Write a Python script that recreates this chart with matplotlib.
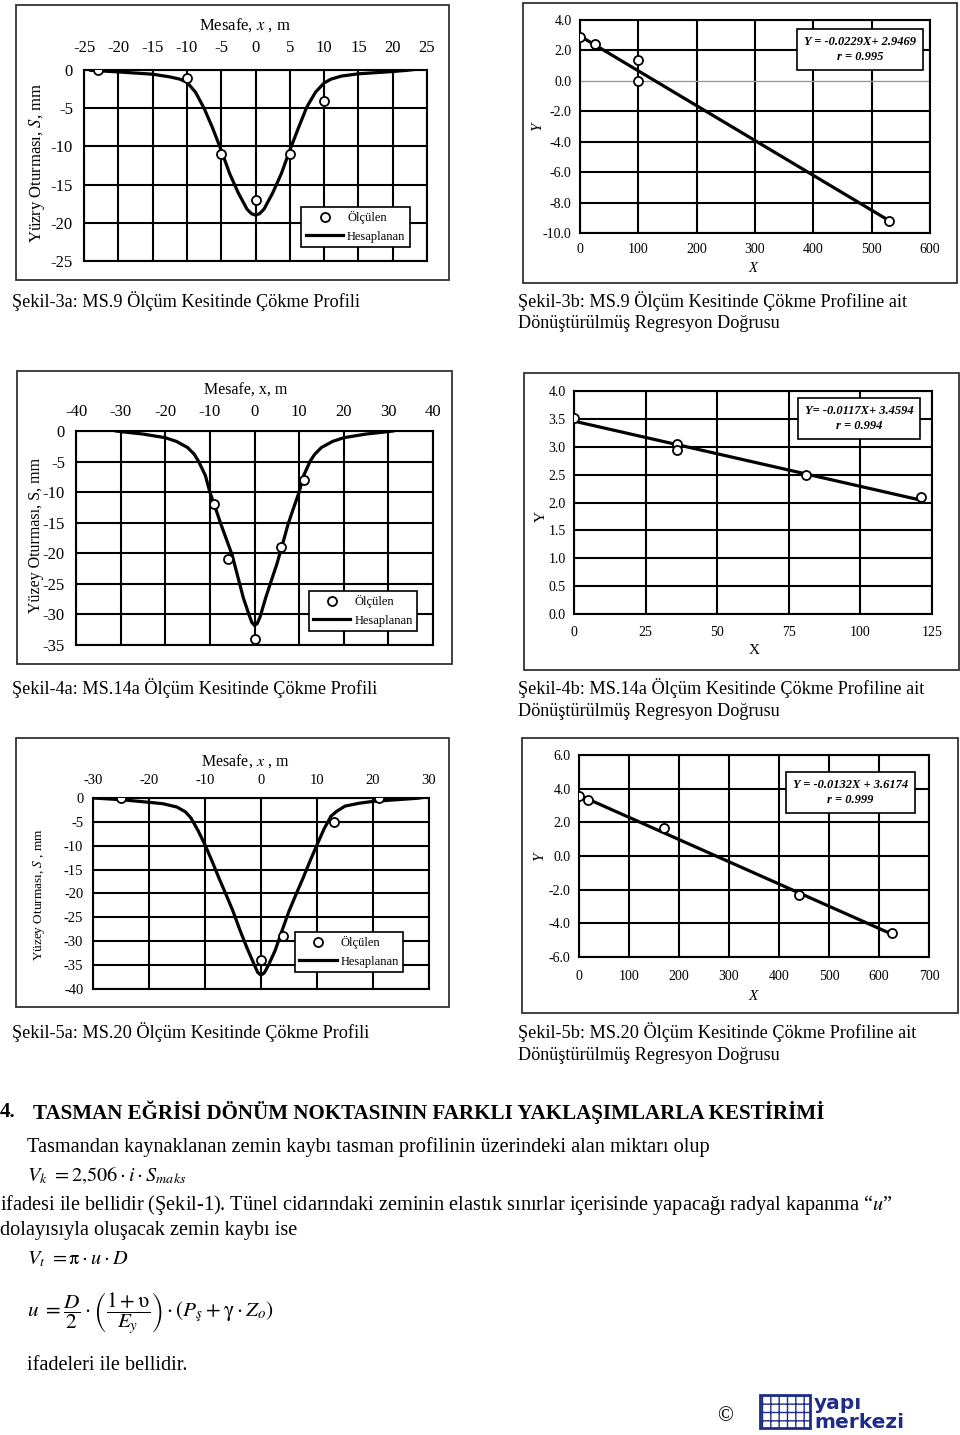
import matplotlib
matplotlib.use('Agg')
import matplotlib.pyplot as plt
import numpy as np
from matplotlib.patches import Rectangle
from matplotlib.lines import Line2D
from matplotlib.ticker import FormatStrFormatter

plt.rcParams['font.family'] = ['Liberation Serif', 'DejaVu Serif']
plt.rcParams['mathtext.fontset'] = 'stix'
plt.rcParams['axes.unicode_minus'] = False

W, H = 960, 1435

# ---------------- data ----------------
# Şekil-3a (MS.9 profile)
p3a_meas_x = [-23, -10, -5, 0, 5, 10]
p3a_meas_s = [0, -1, -11, -17, -11, -4]
p3a_calc_x = [-24, -22, -20, -17.5, -15, -12.5, -11, -10, -8.75, -7.5, -6.25, -5, -3.75, -2.5, -1.25, -0.6, 0,
              0.6, 1.25, 2.5, 3.75, 5, 6.25, 7.5, 8.75, 10, 11, 12.5, 15, 17.5, 20, 22, 23]
p3a_calc_s = [-0.05, -0.15, -0.25, -0.4, -0.55, -0.9, -1.2, -1.6, -2.9, -5.0, -7.6, -10.5, -13.6, -16.1, -18.2, -18.8, -19.0,
              -18.8, -18.2, -16.1, -13.6, -10.5, -7.6, -4.8, -2.9, -1.7, -1.2, -0.8, -0.5, -0.35, -0.2, -0.05, 0.05]
p3a_xticks = [-25, -20, -15, -10, -5, 0, 5, 10, 15, 20, 25]
p3a_yticks = [0, -5, -10, -15, -20, -25]

# Şekil-3b (MS.9 regression)
r3b_x = [0, 25, 100, 100, 530]
r3b_y = [2.85, 2.4, 1.4, 0.0, -9.2]
r3b_slope, r3b_icpt, r3b_r = -0.0229, 2.9469, 0.995
r3b_xticks = [0, 100, 200, 300, 400, 500, 600]
r3b_yticks = [4, 2, 0, -2, -4, -6, -8, -10]

# Şekil-4a (MS.14a profile)
p4a_meas_x = [-9, -6, 0, 6, 11]
p4a_meas_s = [-12, -21, -34, -19, -8]
p4a_calc_x = [-31, -30, -25, -20, -17.5, -15, -13.5, -12.5, -11, -10, -8.75, -7.5, -6.25, -5, -3.75, -2.5, -1.25, -0.6, 0,
              0.6, 1.25, 2.5, 3.75, 5, 6.25, 7.5, 8.75, 10, 11, 12.5, 13.5, 15, 17.5, 20, 25, 30, 31]
p4a_calc_s = [0, -0.1, -0.5, -1.1, -1.7, -2.7, -3.8, -5.0, -7.3, -10.0, -12.6, -15.3, -17.8, -20.3, -23.8, -27.3, -30.0, -31.3, -31.8,
              -31.5, -30.4, -27.3, -24.5, -21.8, -18.6, -15.3, -12.6, -10.0, -7.3, -4.9, -3.8, -2.7, -1.7, -1.1, -0.5, -0.1, 0]
p4a_xticks = [-40, -30, -20, -10, 0, 10, 20, 30, 40]
p4a_yticks = [0, -5, -10, -15, -20, -25, -30, -35]

# Şekil-4b (MS.14a regression)
r4b_x = [0, 36, 36, 81, 121]
r4b_y = [3.52, 3.05, 2.95, 2.5, 2.1]
r4b_slope, r4b_icpt, r4b_r = -0.0117, 3.4594, 0.994
r4b_xticks = [0, 25, 50, 75, 100, 125]
r4b_yticks = [0.0, 0.5, 1.0, 1.5, 2.0, 2.5, 3.0, 3.5, 4.0]

# Şekil-5a (MS.20 profile)
p5a_meas_x = [-25, 0, 4, 13, 21]
p5a_meas_s = [0, -34, -29, -5, 0]
p5a_calc_x = [-30, -25, -20, -17.5, -15, -13.5, -12.5, -11.25, -10, -8.75, -7.5, -6.25, -5, -3.75, -2.5, -1.25, -0.6, 0,
              0.6, 1.25, 2.5, 3.75, 5, 6.25, 7.5, 8.75, 10, 11.25, 12.5, 13.5, 15, 17.5, 20, 25, 28, 30]
p5a_calc_s = [0, -0.35, -0.9, -1.2, -1.9, -2.9, -4.2, -6.8, -9.8, -13.2, -16.8, -20.2, -23.7, -27.7, -31.4, -34.8, -36.5, -37.1,
              -36.6, -35.2, -32.0, -27.8, -23.7, -20.2, -16.8, -13.2, -9.8, -6.5, -3.8, -2.8, -1.7, -1.1, -0.7, -0.3, -0.05, 0.3]
p5a_xticks = [-30, -20, -10, 0, 10, 20, 30]
p5a_yticks = [0, -5, -10, -15, -20, -25, -30, -35, -40]

# Şekil-5b (MS.20 regression)
r5b_x = [0, 18, 170, 440, 625]
r5b_y = [3.55, 3.35, 1.65, -2.3, -4.6]
r5b_slope, r5b_icpt, r5b_r = -0.0132, 3.6174, 0.999
r5b_xticks = [0, 100, 200, 300, 400, 500, 600, 700]
r5b_yticks = [6, 4, 2, 0, -2, -4, -6]

# ---------------- helpers ----------------
fig = plt.figure(figsize=(W / 100, H / 100), dpi=100)
fig.patch.set_facecolor('white')


def fx(px):
    return px / W


def fy(py):
    return 1 - py / H


def rect_px(l, t, r, b):
    return [fx(l), fy(b), (r - l) / W, (b - t) / H]


def frame(l, t, r, b):
    fig.add_artist(Rectangle((fx(l), fy(b)), (r - l) / W, (b - t) / H, transform=fig.transFigure,
                             fill=False, ec='#333333', lw=1.3, zorder=0))


def style_common(ax, tick_fs, xpad, ypad):
    ax.set_axisbelow(True)
    ax.grid(True, color='black', lw=1.5)
    ax.tick_params(axis='both', length=0, labelsize=tick_fs)
    ax.tick_params(axis='x', pad=xpad)
    ax.tick_params(axis='y', pad=ypad)
    for s in ax.spines.values():
        s.set_linewidth(1.5)
        s.set_color('black')


def profile(box, xlim, ylim, xticks, yticks, mx, ms_, cx, cs, anchor, tick_fs, xpad, ypad):
    ax = fig.add_axes(rect_px(*box))
    ax.plot(cx, cs, color='black', lw=2.3, zorder=3, solid_joinstyle='round')
    ax.plot(mx, ms_, 'o', ms=6.5, mfc='white', mec='black', mew=1.3, zorder=4)
    ax.set_xlim(*xlim)
    ax.set_ylim(*ylim)
    ax.set_xticks(xticks)
    ax.set_yticks(yticks)
    ax.xaxis.tick_top()
    style_common(ax, tick_fs, xpad, ypad)
    h1 = Line2D([], [], ls='none', marker='o', ms=6.5, mfc='white', mec='black', mew=1.3)
    h2 = Line2D([], [], color='black', lw=2.3)
    leg = ax.legend([h1, h2], ['Ölçülen', 'Hesaplanan'], loc='lower right', bbox_to_anchor=anchor,
                    borderaxespad=0, fancybox=False, framealpha=1, edgecolor='black', fontsize=9,
                    handlelength=3.0, handletextpad=0.3, borderpad=0.35, labelspacing=0.5)
    leg.get_frame().set_linewidth(1.2)
    leg.set_zorder(10)
    return ax


def regression(box, xlim, ylim, xticks, yticks, px_, py_, slope, icpt, rr, eqfmt, txt_pos, tick_fs, xpad, ypad,
               light_zero=False):
    ax = fig.add_axes(rect_px(*box))
    lx = np.array([min(px_), max(px_)])
    ax.plot(lx, slope * lx + icpt, color='black', lw=2.3, zorder=3)
    ax.plot(px_, py_, 'o', ms=6.5, mfc='white', mec='black', mew=1.3, zorder=4)
    ax.set_xlim(*xlim)
    ax.set_ylim(*ylim)
    ax.set_xticks(xticks)
    ax.set_yticks(yticks)
    ax.yaxis.set_major_formatter(FormatStrFormatter('%.1f'))
    style_common(ax, tick_fs, xpad, ypad)
    if light_zero:
        for gl, v in zip(ax.get_ygridlines(), ax.get_yticks()):
            if abs(v) < 1e-9:
                gl.set_color('#999999')
                gl.set_linewidth(1.0)
    txt = eqfmt.format(s=slope, i=icpt) + '\n' + 'r = {:.3f}'.format(rr)
    ax.text(txt_pos[0], txt_pos[1], txt, transform=ax.transAxes, ha='center', va='center',
            multialignment='center', fontsize=9, fontweight='bold', fontstyle='italic', zorder=10,
            linespacing=1.3,
            bbox=dict(boxstyle='square,pad=0.55', fc='white', ec='black', lw=1.2))
    return ax


def ftext(x, y, s, **kw):
    kw.setdefault('va', 'center')
    kw.setdefault('ha', 'left')
    return fig.text(fx(x), fy(y), s, **kw)


# ---------------- chart frames ----------------
frame(16, 5, 449, 280)
frame(523, 3, 957, 283)
frame(17, 371, 452, 664)
frame(524, 373, 959, 670)
frame(16, 738, 449, 1007)
frame(522, 738, 958, 1013)

# ---------------- Şekil-3a ----------------
profile((84, 70, 427, 261), (-25, 25), (-25, 0), p3a_xticks, p3a_yticks,
        p3a_meas_x, p3a_meas_s, p3a_calc_x, p3a_calc_s, (0.95, 0.073), 12, 10, 8)
ftext(245, 25, 'Mesafe, $\\mathit{x}$ , m', ha='center', fontsize=12)
ftext(37, 163, 'Yüzry Oturması, $\\mathit{S}$, mm', ha='center', rotation=90, fontsize=12)

# ---------------- Şekil-3b ----------------
regression((580, 20, 930, 233), (0, 600), (-10, 4), r3b_xticks, r3b_yticks,
           r3b_x, r3b_y, r3b_slope, r3b_icpt, r3b_r, 'Y = {s:.4f}X+ {i:.4f}', (0.80, 0.861), 10, 7, 6,
           light_zero=True)
ftext(753, 268, 'X', ha='center', fontsize=10.5, fontstyle='italic')
ftext(538, 127, 'Y', ha='center', rotation=90, fontsize=11, fontstyle='italic')

# ---------------- Şekil-4a ----------------
profile((76, 431, 433, 645), (-40, 40), (-35, 0), p4a_xticks, p4a_yticks,
        p4a_meas_x, p4a_meas_s, p4a_calc_x, p4a_calc_s, (0.955, 0.065), 12, 8, 8)
ftext(246, 391, 'Mesafe, x, m', ha='center', fontsize=11.5)
ftext(36, 535, 'Yüzey Oturması, S, mm', ha='center', rotation=90, fontsize=11.5)

# ---------------- Şekil-4b ----------------
regression((574, 391, 932, 614), (0, 125), (0, 4), r4b_xticks, r4b_yticks,
           r4b_x, r4b_y, r4b_slope, r4b_icpt, r4b_r, 'Y= {s:.4f}X+ {i:.4f}', (0.796, 0.877), 10, 9, 6)
ftext(754, 651, 'X', ha='center', fontsize=11)
ftext(541, 517, 'Y', ha='center', rotation=90, fontsize=11)

# ---------------- Şekil-5a ----------------
profile((93, 798, 429, 989), (-30, 30), (-40, 0), p5a_xticks, p5a_yticks,
        p5a_meas_x, p5a_meas_s, p5a_calc_x, p5a_calc_s, (0.923, 0.089), 10.5, 8, 7)
ftext(245, 761, 'Mesafe, $\\mathit{x}$ , m', ha='center', fontsize=11.5)
ftext(39, 895, 'Yüzey Oturması, $\\mathit{S}$ , mm', ha='center', rotation=90, fontsize=9.5)

# ---------------- Şekil-5b ----------------
regression((579, 755, 929, 957), (0, 700), (-6, 6), r5b_xticks, r5b_yticks,
           r5b_x, r5b_y, r5b_slope, r5b_icpt, r5b_r, 'Y = {s:.4f}X + {i:.4f}', (0.776, 0.814), 10, 9, 6)
ftext(753, 997, 'X', ha='center', fontsize=11, fontstyle='italic')
ftext(540, 857, 'Y', ha='center', rotation=90, fontsize=11, fontstyle='italic')

# ---------------- captions & body text ----------------
renderer = fig.canvas.get_renderer()


def fit_size(s, target_w, base=12, **kw):
    t = fig.text(0, 0, s, fontsize=base, **kw)
    w = t.get_window_extent(renderer).width
    t.remove()
    return base * target_w / w


cap_fs = fit_size('Şekil-3a: MS.9 Ölçüm Kesitinde Çökme Profili', 348)
for (x, y, s) in [(12, 301, 'Şekil-3a: MS.9 Ölçüm Kesitinde Çökme Profili'),
                  (518, 301, 'Şekil-3b: MS.9 Ölçüm Kesitinde Çökme Profiline ait'),
                  (518, 324, 'Dönüştürülmüş Regresyon Doğrusu'),
                  (12, 688, 'Şekil-4a: MS.14a Ölçüm Kesitinde Çökme Profili'),
                  (518, 688, 'Şekil-4b: MS.14a Ölçüm Kesitinde Çökme Profiline ait'),
                  (518, 711, 'Dönüştürülmüş Regresyon Doğrusu'),
                  (12, 1032, 'Şekil-5a: MS.20 Ölçüm Kesitinde Çökme Profili'),
                  (518, 1032, 'Şekil-5b: MS.20 Ölçüm Kesitinde Çökme Profiline ait'),
                  (518, 1055, 'Dönüştürülmüş Regresyon Doğrusu')]:
    ftext(x, y, s, fontsize=cap_fs)

head = 'TASMAN EĞRİSİ DÖNÜM NOKTASININ FARKLI YAKLAŞIMLARLA KESTİRİMİ'
head_fs = fit_size(head, 789, fontweight='bold')
ftext(0, 1112, '4.', fontsize=head_fs, fontweight='bold')
ftext(33, 1112, head, fontsize=head_fs, fontweight='bold')

body1 = 'Tasmandan kaynaklanan zemin kaybı tasman profilinin üzerindeki alan miktarı olup'
body_fs = fit_size(body1, 680)
ftext(27, 1147, body1, fontsize=body_fs)
ftext(27, 1176, r'$V_k\ = 2{,}506\cdot i\cdot S_{maks}$', fontsize=body_fs)
ftext(0, 1205, 'ifadesi ile bellidir (Şekil-1). Tünel cidarındaki zeminin elastık sınırlar içerisinde '
               'yapacağı radyal kapanma “$u$”', fontsize=body_fs)
ftext(0, 1231, 'dolayısıyla oluşacak zemin kaybı ise', fontsize=body_fs)
ftext(27, 1259, r'$V_t\ = \mathrm{\pi}\cdot u\cdot D$', fontsize=body_fs)
u_formula = (r'$u\ = \dfrac{D}{2}\cdot\left(\dfrac{1+\mathrm{\upsilon}}{E_y}\right)\cdot'
             r'\left(P_{ş}+\mathrm{\gamma}\cdot Z_o\right)$')
u_fs = fit_size(u_formula, 248)
ftext(27, 1313, u_formula, fontsize=u_fs)
ftext(27, 1366, 'ifadeleri ile bellidir.', fontsize=body_fs)

# ---------------- footer logo ----------------
ftext(725, 1417, '©', ha='center', fontsize=15)
navy = '#1f2d86'
fig.add_artist(Rectangle((fx(760), fy(1428)), 50 / W, 33 / H, transform=fig.transFigure,
                         fill=False, ec=navy, lw=2.0, hatch='++', zorder=2))
fig.text(fx(814), fy(1413), 'yapı', color=navy, fontsize=14.5, fontweight='bold',
         family=['DejaVu Sans'], va='bottom', ha='left')
fig.text(fx(814), fy(1413), 'merkezi', color=navy, fontsize=14.5, fontweight='bold',
         family=['DejaVu Sans'], va='top', ha='left')

fig.savefig('out.png', dpi=100, facecolor='white')
